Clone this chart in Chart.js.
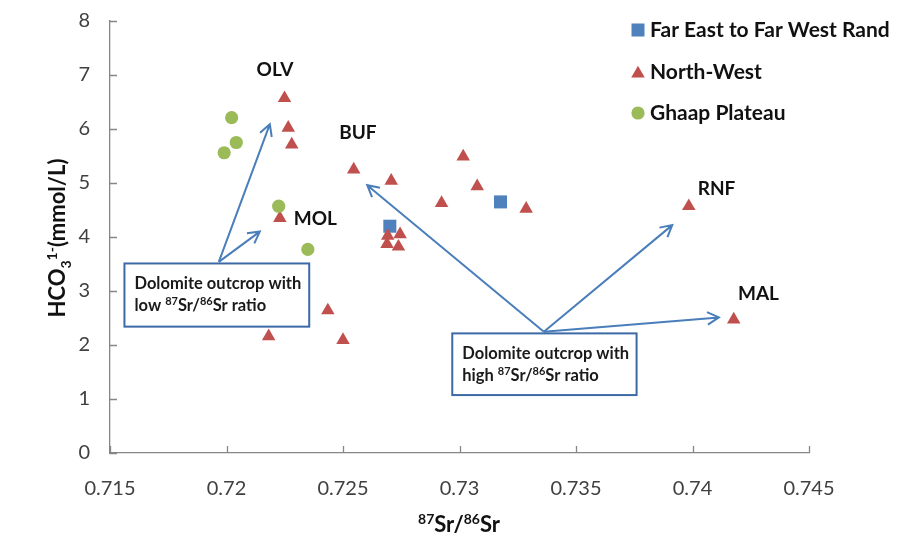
<!DOCTYPE html>
<html>
<head>
<meta charset="utf-8">
<script src="https://cdn.jsdelivr.net/npm/chart.js@4.4.1/dist/chart.umd.min.js"></script>
<style>
  html, body { margin: 0; padding: 0; background: #fff; }
  #wrap { position: relative; width: 897px; height: 550px; }
</style>
</head>
<body>
<div id="wrap"><canvas id="chart"></canvas></div>
<script>
// ===== DATA =====
const farEastX = [0.72701, 0.73176];
const farEastY = [4.20, 4.65];

const northWestX = [0.72249, 0.72265, 0.72280, 0.72229, 0.72546, 0.72707, 0.72692, 0.72745,
    0.72689, 0.72738, 0.72923, 0.73016, 0.73076, 0.73286, 0.73984, 0.74177, 0.72181, 0.72435, 0.72500];
const northWestY = [6.57, 6.02, 5.71, 4.35, 5.25, 5.04, 4.02, 4.05,
    3.87, 3.82, 4.63, 5.49, 4.94, 4.52, 4.57, 2.47, 2.16, 2.64, 2.09];

const ghaapX = [0.72022, 0.72042, 0.71990, 0.72224, 0.72349];
const ghaapY = [6.21, 5.75, 5.56, 4.57, 3.77];

const xTickLabels = ['0.715', '0.72', '0.725', '0.73', '0.735', '0.74', '0.745'];
const yTickLabels = ['0', '1', '2', '3', '4', '5', '6', '7', '8'];

const seriesNames = ['Far East to Far West Rand', 'North-West', 'Ghaap Plateau'];

// site labels (centre of text, in data units)
const siteNames = ['OLV', 'BUF', 'MOL', 'RNF', 'MAL'];
const siteX = [0.72208, 0.72564, 0.72381, 0.74103, 0.74283];
const siteY = [7.09, 5.93, 4.34, 4.90, 2.955];

// arrows (tail -> head, data units)
const arrowFromX = [0.71967, 0.71967, 0.73362, 0.73362, 0.73362];
const arrowFromY = [3.54, 3.54, 2.245, 2.245, 2.245];
const arrowToX = [0.72186, 0.72143, 0.72604, 0.73913, 0.74113];
const arrowToY = [6.09, 4.10, 4.96, 4.22, 2.51];

// text boxes (data units)
const boxX0 = [0.71562, 0.72969];
const boxX1 = [0.72355, 0.73760];
const boxY0 = [3.51, 2.215];
const boxY1 = [2.34, 1.073];
const boxLine1 = ['Dolomite outcrop with', 'Dolomite outcrop with'];
const boxLine2Word = ['low', 'high'];

// ===== DRAWING HELPERS =====
const FONT = 'Lato, "Open Sans", sans-serif';

function drawRich(ctx, parts, x, y, size, align) {
    const fontFor = (k) => `bold ${k ? Math.round(size * 0.64) : size}px ${FONT}`;
    let total = 0;
    parts.forEach(([t, k]) => {
        ctx.font = fontFor(k);
        total += ctx.measureText(t).width;
    });
    let cx = align === 'center' ? x - total / 2 : x;
    parts.forEach(([t, k]) => {
        ctx.font = fontFor(k);
        const dy = k === 'sup' ? -size * 0.38 : k === 'sub' ? size * 0.25 : 0;
        ctx.fillText(t, cx, y + dy);
        cx += ctx.measureText(t).width;
    });
}

function drawArrow(ctx, x1, y1, x2, y2) {
    const ang = Math.atan2(y2 - y1, x2 - x1);
    const len = 13;
    const spread = 0.5;
    ctx.beginPath();
    ctx.moveTo(x1, y1);
    ctx.lineTo(x2, y2);
    ctx.moveTo(x2 - len * Math.cos(ang - spread), y2 - len * Math.sin(ang - spread));
    ctx.lineTo(x2, y2);
    ctx.lineTo(x2 - len * Math.cos(ang + spread), y2 - len * Math.sin(ang + spread));
    ctx.stroke();
}

const arrowsPlugin = {
    id: 'arrows',
    beforeDatasetsDraw(chart) {
        const { ctx, scales: { x, y } } = chart;
        ctx.save();
        ctx.strokeStyle = '#4A7EBB';
        ctx.lineWidth = 2;
        ctx.lineJoin = 'miter';
        for (let i = 0; i < arrowFromX.length; i++) {
            drawArrow(ctx,
                x.getPixelForValue(arrowFromX[i]), y.getPixelForValue(arrowFromY[i]),
                x.getPixelForValue(arrowToX[i]), y.getPixelForValue(arrowToY[i]));
        }
        ctx.restore();
    },
};

const overlayPlugin = {
    id: 'overlay',
    afterDraw(chart) {
        const { ctx, chartArea, scales: { x, y } } = chart;
        ctx.save();

        // inside tick marks
        ctx.strokeStyle = '#868686';
        ctx.lineWidth = 1.3;
        ctx.beginPath();
        x.ticks.forEach((t) => {
            const px = Math.round(x.getPixelForValue(t.value)) + 0.5;
            ctx.moveTo(px, chartArea.bottom);
            ctx.lineTo(px, chartArea.bottom - 7);
        });
        y.ticks.forEach((t) => {
            const py = Math.round(y.getPixelForValue(t.value)) + 0.5;
            ctx.moveTo(chartArea.left, py);
            ctx.lineTo(chartArea.left + 7, py);
        });
        ctx.stroke();

        // text boxes
        for (let i = 0; i < boxX0.length; i++) {
            const bx0 = x.getPixelForValue(boxX0[i]);
            const bx1 = x.getPixelForValue(boxX1[i]);
            const by0 = y.getPixelForValue(boxY0[i]);
            const by1 = y.getPixelForValue(boxY1[i]);
            ctx.fillStyle = '#fff';
            ctx.fillRect(bx0, by0, bx1 - bx0, by1 - by0);
            ctx.strokeStyle = '#3D6AA6';
            ctx.lineWidth = 2;
            ctx.strokeRect(bx0, by0, bx1 - bx0, by1 - by0);
            ctx.fillStyle = '#1a1a1a';
            ctx.textAlign = 'left';
            ctx.textBaseline = 'alphabetic';
            ctx.font = `bold 16.5px ${FONT}`;
            ctx.fillText(boxLine1[i], bx0 + 10, by0 + 26);
            drawRich(ctx, [[boxLine2Word[i] + ' ', ''], ['87', 'sup'], ['Sr/', ''], ['86', 'sup'], ['Sr ratio', '']],
                bx0 + 10, by0 + 48, 16.5, 'left');
        }

        // site labels
        ctx.fillStyle = '#111';
        ctx.font = `bold 19px ${FONT}`;
        ctx.textAlign = 'center';
        ctx.textBaseline = 'middle';
        siteNames.forEach((n, i) => {
            ctx.fillText(n, x.getPixelForValue(siteX[i]), y.getPixelForValue(siteY[i]));
        });

        // legend
        const colors = ['#4F81BD', '#C0504D', '#9BBB59'];
        const styles = ['rect', 'triangle', 'circle'];
        const radii = [9.2, 7.8, 6.6];
        const rowY = [30, 72, 113];
        seriesNames.forEach((n, i) => {
            ctx.fillStyle = colors[i];
            Chart.helpers.drawPoint(ctx, { pointStyle: styles[i], radius: radii[i], borderWidth: 0, rotation: 0 }, 638, rowY[i] + (i === 1 ? 1.5 : 0));
            ctx.fillStyle = '#111';
            ctx.font = `bold 21px ${FONT}`;
            ctx.textAlign = 'left';
            ctx.textBaseline = 'middle';
            ctx.fillText(n, 650, rowY[i]);
        });

        // axis titles
        ctx.fillStyle = '#111';
        ctx.textBaseline = 'alphabetic';
        drawRich(ctx, [['87', 'sup'], ['Sr/', ''], ['86', 'sup'], ['Sr', '']], 459, 532, 22, 'center');

        ctx.translate(57, 238);
        ctx.rotate(-Math.PI / 2);
        drawRich(ctx, [['HCO', ''], ['3', 'sub'], ['1-', 'sup'], ['(mmol/L)', '']], 0, 8, 22, 'center');

        ctx.restore();
    },
};

// ===== CHART =====
const toPoints = (xs, ys) => xs.map((v, i) => ({ x: v, y: ys[i] }));

const ctx = document.getElementById('chart').getContext('2d');
const chart = new Chart(ctx, {
    type: 'scatter',
    data: {
        datasets: [
            {
                label: seriesNames[0],
                data: toPoints(farEastX, farEastY),
                pointStyle: 'rect',
                pointRadius: 9.2,
                backgroundColor: '#4F81BD',
                borderWidth: 0,
                order: 2,
            },
            {
                label: seriesNames[1],
                data: toPoints(northWestX, northWestY),
                pointStyle: 'triangle',
                pointRadius: 7.8,
                backgroundColor: '#C0504D',
                borderWidth: 0,
                order: 1,
            },
            {
                label: seriesNames[2],
                data: toPoints(ghaapX, ghaapY),
                pointStyle: 'circle',
                pointRadius: 6.6,
                backgroundColor: '#9BBB59',
                borderWidth: 0,
                order: 0,
            },
        ],
    },
    options: {
        responsive: true,
        maintainAspectRatio: false,
        animation: false,
        events: [],
        layout: { padding: { top: 21, right: 88, left: 0, bottom: 0 } },
        plugins: {
            legend: { display: false },
            tooltip: { enabled: false },
        },
        scales: {
            x: {
                type: 'linear',
                min: 0.715,
                max: 0.745,
                afterFit: (scale) => { scale.height = 97; },
                grid: { display: false, drawTicks: false },
                border: { display: true, color: '#868686', width: 1.3 },
                ticks: {
                    stepSize: 0.005,
                    padding: 24,
                    color: '#404040',
                    font: { family: FONT, size: 20 },
                    maxRotation: 0,
                    callback: (v) => xTickLabels[Math.round((v - 0.715) / 0.005)],
                },
            },
            y: {
                min: 0,
                max: 8,
                afterFit: (scale) => {
                    scale.width = 110;
                    scale.paddingTop = 0;
                    scale.paddingBottom = 0;
                },
                grid: { display: false, drawTicks: false },
                border: { display: true, color: '#868686', width: 1.3 },
                ticks: {
                    stepSize: 1,
                    padding: 20,
                    color: '#404040',
                    font: { family: FONT, size: 20 },
                    callback: (v) => yTickLabels[Math.round(v)],
                },
            },
        },
    },
    plugins: [arrowsPlugin, overlayPlugin],
});
</script>
</body>
</html>
